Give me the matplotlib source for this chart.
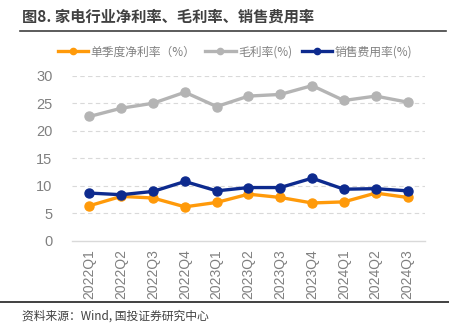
import matplotlib
matplotlib.use("Agg")
import matplotlib.pyplot as plt
from matplotlib.lines import Line2D

plt.rcParams['font.family'] = ['Noto Sans CJK SC', 'DejaVu Sans']

# 数据
quarters = ['2022Q1', '2022Q2', '2022Q3', '2022Q4', '2023Q1', '2023Q2',
            '2023Q3', '2023Q4', '2024Q1', '2024Q2', '2024Q3']
net_margin = [6.4, 8.1, 7.8, 6.2, 7.0, 8.5, 7.9, 6.9, 7.1, 8.7, 7.9]
gross_margin = [22.6, 24.1, 25.0, 27.0, 24.4, 26.3, 26.6, 28.2, 25.5, 26.3, 25.2]
selling_ratio = [8.7, 8.4, 9.0, 10.8, 9.1, 9.7, 9.7, 11.4, 9.4, 9.5, 9.1]
labels = ['单季度净利率（%）', '毛利率(%)', '销售费用率(%)']
colors = ['#FF9A0A', '#B4B4B4', '#0D2A8E']

fig = plt.figure(figsize=(4.49, 3.36), dpi=100)
W, H = 449, 336
ax = fig.add_axes([72 / W, 1 - 241 / H, (425 - 72) / W, (241 - 75.7) / H])

x = list(range(len(quarters)))
for series, c in zip([net_margin, gross_margin, selling_ratio], colors):
    ax.plot(x, series, color=c, lw=2.4, marker='o', ms=6.5, solid_joinstyle='round')

ax.set_ylim(0, 30)
ax.set_xlim(-0.55, len(quarters) - 0.45)
ax.set_yticks(range(0, 31, 5))
ax.set_xticks(x)
ax.set_xticklabels(quarters, rotation=90, fontsize=10, color='#808080', family='Liberation Sans')
ax.tick_params(axis='y', labelsize=10.5, colors='#808080', length=0, pad=14)
ax.tick_params(axis='x', length=0, pad=6)
for lab in ax.get_yticklabels():
    lab.set_family('Liberation Sans')
ax.grid(axis='y', color='#D9D9D9', ls=(0, (4, 3)), lw=0.8)
ax.set_axisbelow(True)
for s in ['top', 'right', 'left']:
    ax.spines[s].set_visible(False)
ax.spines['bottom'].set_color('#D9D9D9')
ax.spines['bottom'].set_linewidth(1.0)
# 0刻度处用实线
ax.yaxis.get_gridlines()[0].set_visible(False)

handles = [Line2D([0], [0], color=c, lw=2.4, marker='o', ms=4.5) for c in colors]
fig.legend(handles, labels, loc='center', bbox_to_anchor=(235 / W, 1 - 52 / H), ncol=3,
           frameon=False, fontsize=8.5, handlelength=2.6, handletextpad=0.2,
           columnspacing=0.8, labelcolor='#808080')

# 标题及分隔线
fig.text(22 / W, 1 - 17 / H, '图8. 家电行业净利率、毛利率、销售费用率', fontsize=11,
         fontweight='bold', color='#404040', va='center', ha='left')
fig.add_artist(Line2D([20 / W, 446 / W], [1 - 31 / H, 1 - 31 / H], color='#404040', lw=1.2))
fig.add_artist(Line2D([0, 449 / W], [1 - 302 / H, 1 - 302 / H], color='#202020', lw=1.2))
fig.text(22 / W, 1 - 316 / H, '资料来源：Wind, 国投证券研究中心', fontsize=8.5,
         style='italic', color='#404040', va='center', ha='left')

fig.savefig('out.png', dpi=100)
